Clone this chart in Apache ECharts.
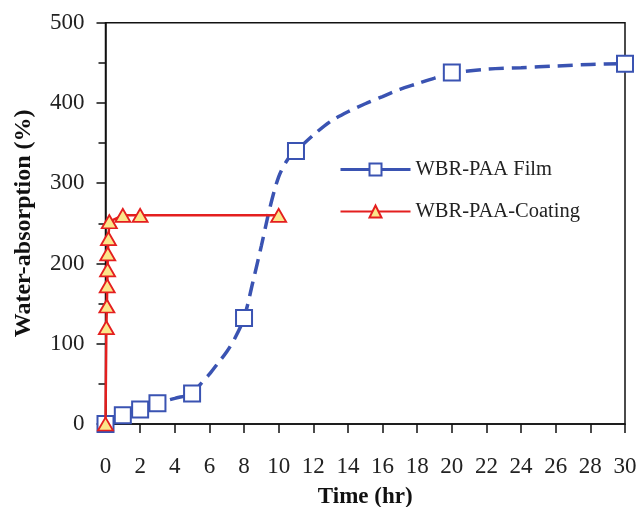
<!DOCTYPE html>
<html>
<head>
<meta charset="utf-8">
<script src="https://cdn.jsdelivr.net/npm/echarts@6/dist/echarts.min.js"></script>
<style>html,body{margin:0;padding:0;background:#fff;}#c{width:640px;height:507px;}</style>
</head>
<body>
<div id="c"></div>
<script>
// Measured points, WBR-PAA Film
var filmTime  = [0, 1, 2, 3, 5, 8, 11, 20, 30];
var filmWater = [0, 11, 18, 26, 38, 132, 340, 438, 449];
// Dashed trend curve
var curveTime  = [0, 1, 2, 3, 4, 5, 5.5, 6, 6.5, 7, 7.5, 8, 8.5, 9, 9.5, 10, 10.5, 11, 12, 13, 14, 15, 16, 17, 18, 19, 20, 22, 24, 26, 28, 30];
var curveWater = [0, 11, 18, 26, 32, 38, 50, 62, 76, 90, 108, 132, 176, 222, 270, 308, 329, 340, 360, 377, 389, 399, 408, 417, 424, 431, 437, 442, 444, 446, 448, 449];
// WBR-PAA-Coating
var coatTime  = [0, 0.05, 0.08, 0.1, 0.12, 0.13, 0.17, 0.22, 1, 2, 10];
var coatWater = [0, 120, 147, 172, 192, 212, 231, 252, 260, 260, 260];
// Axis ticks
var xTicks = [0, 30, 2];
var yTicks = [0, 500, 100];

var BLUE = '#3a53b2', RED = '#e41f1f', YEL = '#fbe68a';
var FONT = 'Liberation Serif';
function pairs(a, b) { return a.map(function (v, i) { return [v, b[i]]; }); }

var chart = echarts.init(document.getElementById('c'));
chart.setOption({
  animation: false,
  backgroundColor: '#fff',
  grid: { left: 105.5, right: 15, top: 22.7, bottom: 83, containLabel: false, outerBoundsMode: 'none',
          show: true, borderColor: '#111', borderWidth: 1.5, backgroundColor: 'transparent' },
  legend: {
    orient: 'vertical', left: 334, top: 154, itemWidth: 70, itemHeight: 15, itemGap: 21,
    textStyle: { fontFamily: FONT, fontSize: 20.5, color: '#222' },
    data: [
      { name: 'WBR-PAA Film', lineStyle: { opacity: 1, type: 'solid', width: 3, color: BLUE } },
      { name: 'WBR-PAA-Coating' }
    ]
  },
  xAxis: {
    type: 'value', min: xTicks[0], max: xTicks[1], interval: xTicks[2],
    name: 'Time (hr)', nameLocation: 'middle', nameGap: 62,
    nameTextStyle: { fontFamily: FONT, fontSize: 23, fontWeight: 'bold', color: '#111' },
    axisLine: { show: true, lineStyle: { color: '#111', width: 1.5 } },
    axisTick: { show: true, inside: false, length: 9, lineStyle: { color: '#111', width: 1.5 } },
    axisLabel: { fontFamily: FONT, fontSize: 23, color: '#222', margin: 31 },
    splitLine: { show: false }
  },
  yAxis: {
    type: 'value', min: yTicks[0], max: yTicks[1], interval: yTicks[2],
    name: 'Water-absorption (%)', nameLocation: 'middle', nameGap: 70,
    nameTextStyle: { fontFamily: FONT, fontSize: 24, fontWeight: 'bold', color: '#111' },
    axisLine: { show: true, lineStyle: { color: '#111', width: 1.5 } },
    axisTick: { show: true, inside: false, length: 9, lineStyle: { color: '#111', width: 1.5 } },
    minorTick: { show: true, splitNumber: 2, length: 7, lineStyle: { color: '#111', width: 1.5 } },
    axisLabel: { fontFamily: FONT, fontSize: 23, color: '#222', margin: 21 },
    splitLine: { show: false }
  },
  series: [
    {
      name: 'curve', type: 'line', data: pairs(curveTime, curveWater), smooth: 0.3,
      symbol: 'none', lineStyle: { color: BLUE, width: 3.5, type: [15, 8] }, z: 2, silent: true
    },
    {
      name: 'WBR-PAA Film', type: 'line', data: pairs(filmTime, filmWater),
      symbol: 'rect', symbolSize: 16, showAllSymbol: true,
      itemStyle: { color: '#fff', borderColor: BLUE, borderWidth: 2 },
      lineStyle: { opacity: 0, color: BLUE, width: 3 }, z: 3
    },
    {
      name: 'WBR-PAA-Coating', type: 'line', data: pairs(coatTime, coatWater),
      symbol: 'triangle', symbolSize: [15, 13], showAllSymbol: true,
      itemStyle: { color: YEL, borderColor: RED, borderWidth: 1.8 },
      lineStyle: { color: RED, width: 2.5 }, z: 5
    }
  ]
});
</script>
</body>
</html>
